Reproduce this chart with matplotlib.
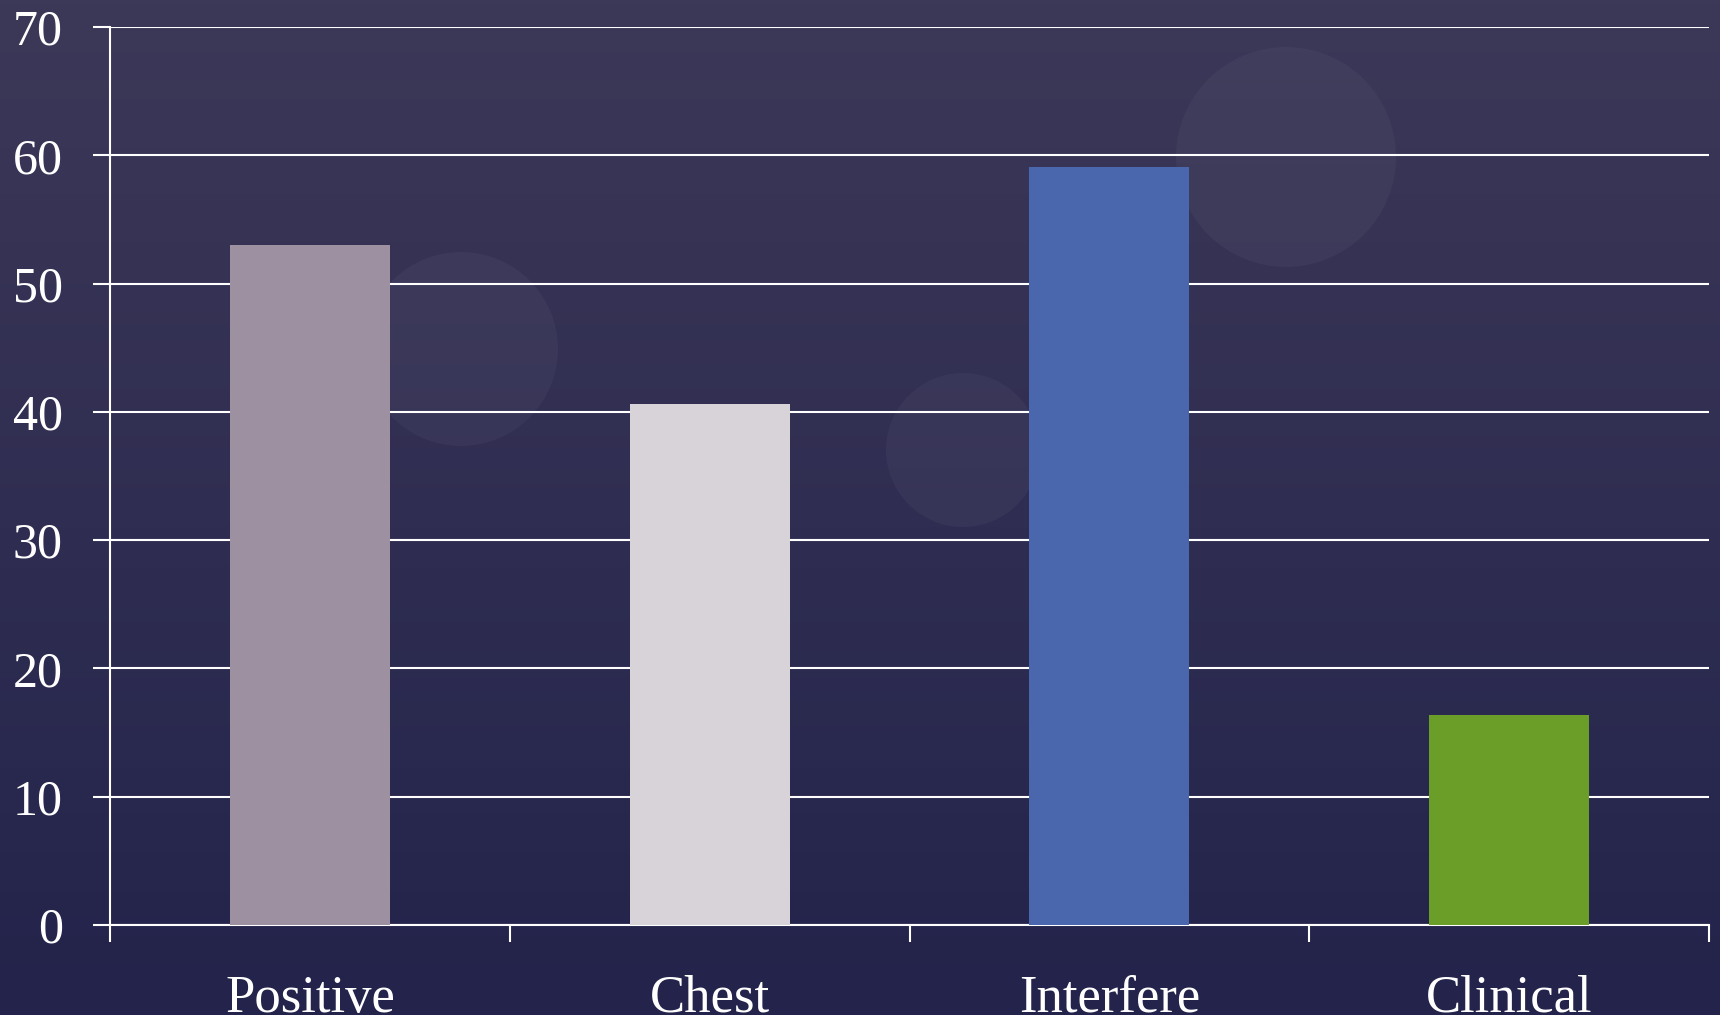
import numpy as np
import matplotlib
matplotlib.use("Agg")
import matplotlib.pyplot as plt
from matplotlib.patches import Circle

categories = ["Positive", "Chest", "Interfere", "Clinical"]
values = [53.0, 40.6, 59.1, 16.4]
bar_colors = ["#9D90A0", "#D8D3D9", "#4A66AC", "#6A9E28"]
y_ticks = [0, 10, 20, 30, 40, 50, 60, 70]

plt.rcParams['font.family'] = ['Liberation Serif', 'DejaVu Serif']

W, H = 1720, 1015
fig = plt.figure(figsize=(W / 100, H / 100), dpi=100)

# background gradient (dark slate purple -> navy), in pixel units
bg = fig.add_axes([0, 0, 1, 1], zorder=-10)
top = np.array([0x3C, 0x38, 0x58]) / 255
bot = np.array([0x23, 0x23, 0x4B]) / 255
t = np.linspace(0, 1, 256)[:, None, None]
grad = top * (1 - t) + bot * t
grad = np.repeat(grad, 4, axis=1)
bg.imshow(grad, aspect="auto", extent=[0, W, 0, H])
# faint decorative circles
for cx, cy, r in [(461, H - 349, 97), (1286, H - 157, 110), (963, H - 450, 77)]:
    bg.add_patch(Circle((cx, cy), r, facecolor="white", alpha=0.035, edgecolor="none"))
bg.set_xlim(0, W)
bg.set_ylim(0, H)
bg.axis("off")

ax = fig.add_axes([0.064, 0.0887, 0.9296, 0.8847])
ax.patch.set_alpha(0)

x = np.arange(len(categories))
ax.bar(x, values, width=0.4, color=bar_colors, zorder=3)

ax.set_xlim(-0.5, len(categories) - 0.5)
ax.set_ylim(0, 70)
ax.set_yticks(y_ticks)
ax.yaxis.grid(True, color="white", linewidth=1.5, zorder=1)
ax.set_axisbelow(True)

ax.set_xticks(x)
ax.set_xticklabels(categories)
ax.set_xticks(np.arange(-0.5, len(categories), 1.0), minor=True)
ax.tick_params(axis="x", which="major", length=0, pad=36, labelsize=38, labelcolor="white")
ax.tick_params(axis="x", which="minor", length=12, width=1.5, color="white", direction="out")
ax.tick_params(axis="y", length=12, width=1.5, color="white", pad=22,
               labelsize=36, labelcolor="white")

for s in ["top", "right"]:
    ax.spines[s].set_visible(False)
for s in ["left", "bottom"]:
    ax.spines[s].set_color("white")
    ax.spines[s].set_linewidth(1.5)

fig.savefig("out.png", dpi=100)
